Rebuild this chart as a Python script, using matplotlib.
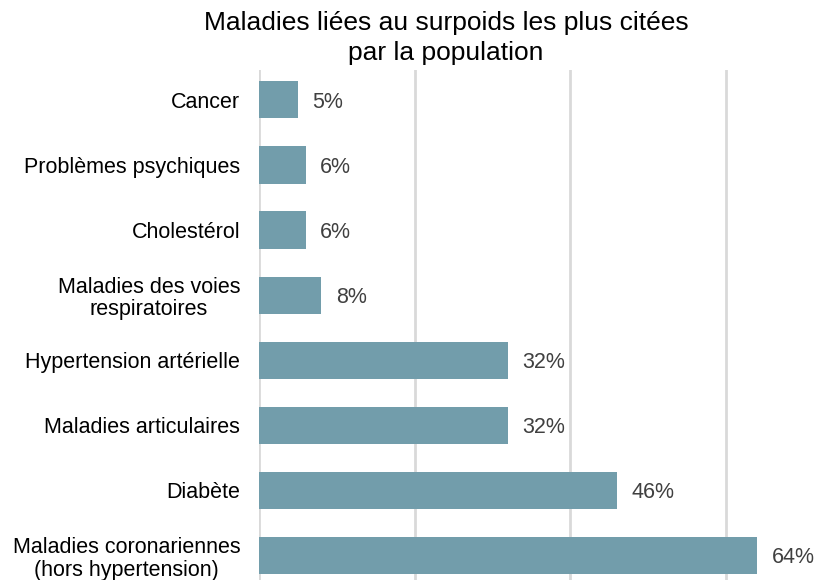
import matplotlib.pyplot as plt

plt.rcParams['font.family'] = ['Liberation Sans', 'DejaVu Sans']

categories = ["Cancer", "Problèmes psychiques", "Cholestérol",
              "Maladies des voies\nrespiratoires", "Hypertension artérielle",
              "Maladies articulaires", "Diabète",
              "Maladies coronariennes\n(hors hypertension)"]
values = [5, 6, 6, 8, 32, 32, 46, 64]

fig = plt.figure(figsize=(8.23, 5.8), dpi=100)
ax = fig.add_axes([259 / 823, 0, (804 - 259) / 823, (580 - 70) / 580])

pos = list(range(len(categories)))
ax.barh(pos, values, height=0.57, color='#729dab', zorder=3)
for p, v in zip(pos, values):
    ax.annotate(f"{v}%", (v, p), xytext=(10.5, 0), textcoords='offset points',
                va='center_baseline', ha='left', fontsize=15.5, color='#404040',
                annotation_clip=False)

ax.set_xlim(0, 70)
ax.set_ylim(7.38, -0.46)
ax.set_xticks([0, 20, 40, 60])
ax.xaxis.grid(True, color='#d9d9d9', linewidth=2, zorder=0)
ax.tick_params(axis='x', bottom=False, labelbottom=False)
ax.set_yticks(pos)
ax.set_yticklabels(categories, fontsize=15.5, linespacing=1.12, multialignment='center')
ax.tick_params(axis='y', length=0, pad=13.5)
for s in ax.spines.values():
    s.set_visible(False)

fig.text(446 / 823, 1 - 38 / 580, "Maladies liées au surpoids les plus citées\npar la population",
         ha='center', va='center', fontsize=19, linespacing=1.35)

fig.savefig("out.png", dpi=100)
